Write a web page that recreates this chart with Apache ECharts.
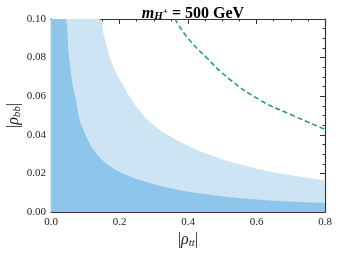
<!DOCTYPE html>
<html><head><meta charset="utf-8">
<script src="https://cdn.jsdelivr.net/npm/echarts@6/dist/echarts.min.js"></script>
<style>html,body{margin:0;padding:0;background:#fff}#c{width:339px;height:254px}</style>
</head><body><div id="c"></div>
<script>
// boundary of the darker (inner) region: [|rho_tt|, |rho_bb|]
const innerX = [0, 0.041, 0.051, 0.063, 0.073, 0.083, 0.102, 0.119, 0.143, 0.182, 0.236, 0.309, 0.377, 0.435, 0.532, 0.630, 0.727, 0.800];
const innerY = [0.100, 0.100, 0.0833, 0.066, 0.058, 0.048, 0.0395, 0.0335, 0.028, 0.0226, 0.018, 0.0140, 0.0113, 0.0096, 0.0075, 0.0061, 0.0052, 0.0047];
// boundary of the lighter (outer) region
const outerX = [0, 0.141, 0.154, 0.167, 0.183, 0.209, 0.237, 0.276, 0.318, 0.367, 0.435, 0.532, 0.630, 0.727, 0.800];
const outerY = [0.100, 0.100, 0.0919, 0.0833, 0.0746, 0.066, 0.0576, 0.049, 0.0425, 0.0373, 0.0315, 0.0256, 0.0212, 0.0183, 0.0166];
// green dashed curve
const dashX = [0.362, 0.400, 0.454, 0.520, 0.610, 0.700, 0.800];
const dashY = [0.100, 0.090, 0.080, 0.069, 0.058, 0.0505, 0.0428];

const pairs = (xs, ys) => xs.map((x, i) => [x, ys[i]]);
const serif = 'Liberation Serif';
const axisCol = '#333';

const chart = echarts.init(document.getElementById('c'));
const baseAxis = {
  axisLine: {show: true, onZero: false, lineStyle: {color: axisCol, width: 1.2}},
  axisTick: {show: true, inside: true, length: 5, lineStyle: {color: axisCol, width: 1}},
  minorTick: {show: true, splitNumber: 4, length: 2.5, lineStyle: {color: axisCol, width: 1}},
  splitLine: {show: false},
  axisLabel: {fontFamily: serif, fontSize: 11, color: '#222'}
};
const nameRich = {
  b: {fontFamily: serif, fontSize: 16, color: '#222'},
  r: {fontFamily: serif, fontStyle: 'italic', fontSize: 16, color: '#222'},
  s: {fontFamily: serif, fontStyle: 'italic', fontSize: 11, color: '#222', padding: [8, 0, 0, 0]}
};
chart.setOption({
  animation: false,
  title: {
    text: '{m|m}{s|H}{p|+}{t| = 500 GeV}',
    left: 188, top: 0, textAlign: 'center',
    textStyle: {
      rich: {
        m: {fontFamily: serif, fontStyle: 'italic', fontWeight: 'bold', fontSize: 16, color: '#000'},
        s: {fontFamily: serif, fontStyle: 'italic', fontWeight: 'bold', fontSize: 11, color: '#000', padding: [6, 0, 0, 0]},
        p: {fontFamily: serif, fontWeight: 'bold', fontSize: 9, color: '#000', padding: [0, 0, 4, 0]},
        t: {fontFamily: serif, fontWeight: 'bold', fontSize: 16, color: '#000'}
      }
    }
  },
  grid: {left: 51, right: 14, top: 19, bottom: 42, containLabel: false, outerBoundsMode: 'none'},
  xAxis: [
    Object.assign({}, baseAxis, {
      type: 'value', min: 0, max: 0.8, interval: 0.2, position: 'bottom',
      axisLabel: Object.assign({}, baseAxis.axisLabel, {margin: 5, formatter: v => v.toFixed(1)}),
      name: '{b||}{r|ρ}{s|tt}{b||}', nameLocation: 'middle', nameGap: 18, nameMoveOverlap: false,
      nameTextStyle: {rich: nameRich}
    }),
    Object.assign({}, baseAxis, {
      type: 'value', min: 0, max: 0.8, interval: 0.2, position: 'top',
      axisLabel: {show: false}
    })
  ],
  yAxis: [
    Object.assign({}, baseAxis, {
      type: 'value', min: 0, max: 0.1, interval: 0.02, position: 'left',
      axisLabel: Object.assign({}, baseAxis.axisLabel, {margin: 5, formatter: v => v.toFixed(2)}),
      name: '{b||}{r|ρ}{s|bb}{b||}', nameLocation: 'middle', nameGap: 28, nameRotate: 90, nameMoveOverlap: false,
      nameTextStyle: {rich: nameRich}
    }),
    Object.assign({}, baseAxis, {
      type: 'value', min: 0, max: 0.1, interval: 0.02, position: 'right',
      axisLabel: {show: false}
    })
  ],
  series: [
    {type: 'line', data: pairs(outerX, outerY), symbol: 'none', silent: true, smooth: 0.25,
     lineStyle: {width: 0}, areaStyle: {color: '#cde4f5', opacity: 1}, z: 1},
    {type: 'line', data: pairs(innerX, innerY), symbol: 'none', silent: true, smooth: 0.25,
     lineStyle: {width: 0}, areaStyle: {color: '#8ec5ea', opacity: 1}, z: 2},
    {type: 'line', data: pairs(dashX, dashY), symbol: 'none', silent: true, smooth: true,
     lineStyle: {width: 1.5, color: '#1b9a72', type: [5, 3]}, z: 3}
  ]
});
</script></body></html>
